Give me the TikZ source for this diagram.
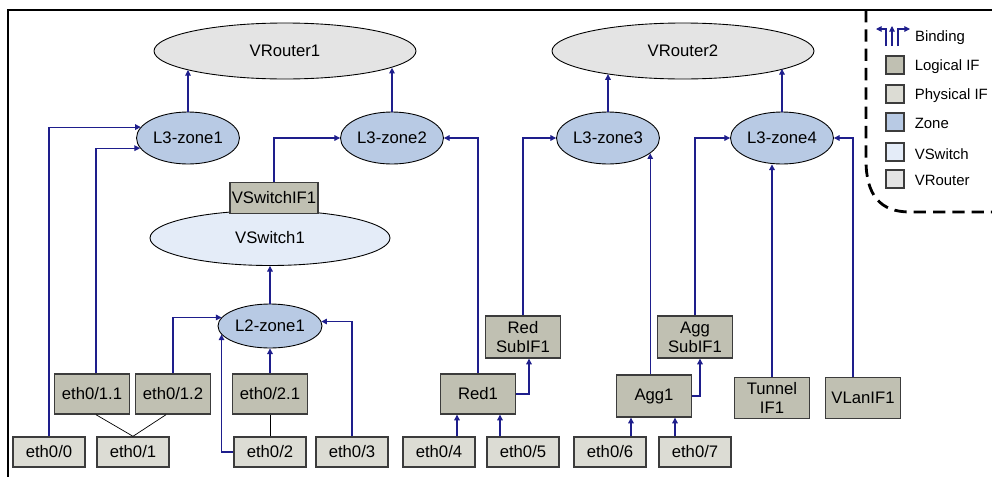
\documentclass[tikz,border=0pt]{standalone}
\usepackage{fontspec}
\setmainfont{Liberation Sans}
\usetikzlibrary{calc}
\usetikzlibrary{arrows.meta}
\usetikzlibrary{shapes.geometric}
\usetikzlibrary{positioning}

\definecolor{bindblue}{RGB}{30,30,140}
\definecolor{edgegray}{RGB}{60,60,60}
\definecolor{logicif}{RGB}{192,192,178}
\definecolor{physif}{RGB}{220,220,212}
\definecolor{zonec}{RGB}{184,202,228}
\definecolor{vswc}{RGB}{228,236,248}
\definecolor{vrtc}{RGB}{228,228,228}

\begin{document}
\begin{tikzpicture}[x=0.02cm, y=-0.02cm, font=\fontsize{9.5}{11}\selectfont,
  bind/.style={draw=bindblue, line width=0.6pt, -{Triangle[length=3.2pt,width=3.2pt]}},
  tie/.style={draw=black, line width=0.4pt},
  logif/.style={draw=edgegray, line width=0.8pt, fill=logicif, minimum width=1.5cm, minimum height=0.8cm, inner sep=1pt, align=center},
  phyif/.style={draw=edgegray, line width=0.8pt, fill=physif, minimum width=1.44cm, minimum height=0.6cm, inner sep=1pt},
  zone/.style={ellipse, draw=black, line width=0.5pt, fill=zonec, minimum width=2.06cm, minimum height=1.04cm, inner sep=0pt},
  vswitch/.style={ellipse, draw=black, line width=0.5pt, fill=vswc, minimum width=4.8cm, minimum height=1.1cm, inner sep=0pt},
  vrouter/.style={ellipse, draw=black, line width=0.5pt, fill=vrtc, minimum width=5.24cm, minimum height=1.12cm, inner sep=0pt},
  legbox/.style={draw=edgegray, line width=0.8pt, minimum size=0.36cm, inner sep=0pt},
  legtext/.style={inner sep=1pt, font=\fontsize{8.5}{10}\selectfont}]

\useasboundingbox (0,0) rectangle (992,477);

\draw[line width=1.7pt] (8,477) -- (8,10) -- (992,10);
\draw[line width=1.6pt, dash pattern=on 7pt off 4pt] (866,10) -- (866,160) .. controls (866,195) and (880,212) .. (910,212) -- (992,212);

\node[vrouter] (vr1) at (285,51) {VRouter1};
\node[vrouter] (vr2) at (683,51) {VRouter2};
\node[zone] (z31) at (188,138) {L3-zone1};
\node[zone] (z32) at (392,138) {L3-zone2};
\node[zone] (z33) at (608,138) {L3-zone3};
\node[zone] (z34) at (782,138) {L3-zone4};
\node[vswitch] (vsw1) at (270,238) {VSwitch1};
\node[logif, minimum width=1.72cm, minimum height=0.62cm] (vsif1) at (274,198) {VSwitchIF1};
\node[zone, minimum width=2.08cm, minimum height=0.88cm] (z21) at (270,326) {L2-zone1};

\node[logif] (e011) at (92,394) {eth0/1.1};
\node[logif] (e012) at (173,394) {eth0/1.2};
\node[logif] (e021) at (270,394) {eth0/2.1};
\node[logif] (red1) at (478,394) {Red1};
\node[logif, minimum height=0.84cm] (rsub1) at (523,337) {Red\\SubIF1};
\node[logif, minimum height=0.84cm] (agg1) at (654,396) {Agg1};
\node[logif, minimum height=0.84cm] (asub1) at (695,337) {Agg\\SubIF1};
\node[logif, minimum height=0.82cm] (tun1) at (772,398) {Tunnel\\IF1};
\node[logif, minimum height=0.82cm] (vlan1) at (863,398) {VLanIF1};

\foreach \x [count=\i from 0] in {49,133,270,352,439,523,610,695} \node[phyif] (e0\i) at (\x,452) {eth0/\i};

\draw[bind] (z31.north) -- (z31.north |- vr1.191);
\draw[bind] (z32.north) -- (z32.north |- vr1.351);
\draw[bind] (z33.north) -- (z33.north |- vr2.197);
\draw[bind] (z34.north) -- (z34.north |- vr2.350);

\draw[bind] (e00.north) |- (z31.167);
\draw[bind] ([xshift=0.8mm]e011.north) |- (z31.192);
\draw[bind] (vsif1.north) |- (z32.west);
\draw[bind] (red1.north) |- (z32.east);
\draw[bind] (rsub1.north) |- (z33.west);
\draw[bind] (agg1.north -| z33.340) -- (z33.340);
\draw[bind] (asub1.north) |- (z34.west);
\draw[bind] (tun1.north) -- (tun1.north |- z34.south);
\draw[bind] ([xshift=-2mm]vlan1.north) |- (z34.east);

\draw[bind] (z21.north) -- (vsw1.south);
\draw[bind] (e012.north) |- (z21.170);
\draw[bind] (e021.north) -- (z21.south);
\draw[bind] (e02.west) -| (z21.190);
\draw[bind] (e03.north) |- (z21.5);
\draw[tie] (e02.north) -- (e021.south);
\draw[tie] ([xshift=0.8mm]e011.south) -- (e01.north) -- ([xshift=-1.4mm]e012.south);

\coordinate (p4) at ([xshift=3.6mm]e04.north);
\coordinate (p5) at ([xshift=-4.6mm]e05.north);
\coordinate (p6) at ([xshift=4.2mm]e06.north);
\coordinate (p7) at ([xshift=-4mm]e07.north);
\draw[bind] (p4) -- (p4 |- red1.south);
\draw[bind] (p5) -- (p5 |- red1.south);
\draw[bind] (p6) -- (p6 |- agg1.south);
\draw[bind] (p7) -- (p7 |- agg1.south);
\draw[bind] (red1.east) -| ([xshift=1.2mm]rsub1.south);
\draw[bind] (agg1.east) -| ([xshift=1mm]asub1.south);

\draw[bind] (886,46) |- (876,29);
\draw[bind] (892,46) -- (892,26);
\draw[bind] (898,46) |- (910,29);
\node[legtext, anchor=west] (legbind) at (913,38) {Binding};
\foreach \c/\t/\y [count=\i] in {logicif/Logical IF/65, physif/Physical IF/94, zonec/Zone/122, vswc/VSwitch/152, vrtc/VRouter/179} {
  \node[legbox, fill=\c] (leg\i) at (895,\y) {};
  \node[legtext, right=1.6mm of leg\i, yshift=-1pt] (legt\i) {\t};
}

\end{tikzpicture}
\end{document}
